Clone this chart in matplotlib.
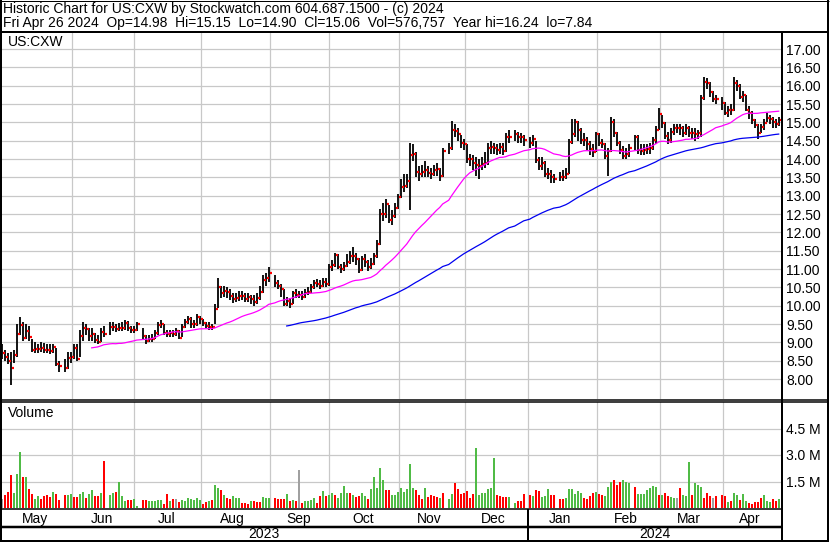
import numpy as np
import pandas as pd
import matplotlib
matplotlib.use('Agg')
import matplotlib.pyplot as plt
from matplotlib.lines import Line2D

W, H = 830, 543
plt.rcParams['font.family'] = ['Liberation Sans', 'DejaVu Sans']

# exchange holidays (no bar drawn, but the slot stays)
holidays = ['2023-05-29', '2023-06-19', '2023-07-04', '2023-09-04', '2023-11-23',
            '2023-12-25', '2024-01-01', '2024-01-15', '2024-02-19', '2024-03-29']

close = [
    8.72, 8.61, 8.48, 8.31, 8.66, 9.22, 9.46, 9.13, 9.32, 9.15, 8.80, 8.83, 8.83, 8.85, 8.78, 8.78, 8.76, 8.87, 8.41, 8.36, 8.30, 8.57,
    8.61, 8.85, 8.55, 9.17, 9.39, 9.36, 9.16, 9.22, 9.06, 9.02, 9.29, 9.23, 9.42, 9.43, 9.36, 9.40, 9.40, 9.53, 9.40, 9.34, 9.34,
    9.49, 9.17, 9.04, 9.08, 9.10, 9.26, 9.46, 9.49, 9.26, 9.22, 9.26, 9.22, 9.31, 9.13, 9.43, 9.56, 9.63, 9.49, 9.49, 9.68,
    9.63, 9.52, 9.45, 9.43, 9.43, 9.92, 10.52, 10.35, 10.41, 10.38, 10.26, 10.17, 10.20, 10.26, 10.26, 10.18, 10.25, 10.17, 10.09, 10.20, 10.38, 10.70, 10.75,
    10.90, 10.61, 10.55, 10.46, 10.05, 10.12, 10.05, 10.34, 10.30, 10.30, 10.25, 10.34, 10.38, 10.50, 10.61, 10.58, 10.55, 10.65, 10.59, 11.06,
    11.11, 11.38, 11.06, 10.99, 11.08, 11.20, 11.35, 11.35, 11.26, 10.97, 11.26, 11.20, 11.06, 11.15, 11.35, 11.68, 12.50, 12.50, 12.77, 12.34, 12.44, 12.67,
    12.97, 13.24, 13.26, 13.41, 14.11, 14.13, 13.65, 13.58, 13.65, 13.70, 13.61, 13.59, 13.70, 13.72, 13.54, 14.23, 14.29, 14.79, 14.77, 14.68, 14.43,
    14.41, 13.99, 13.99, 13.88, 13.85, 13.81, 13.86, 13.88, 14.29, 14.32, 14.29, 14.24, 14.34, 14.23, 14.59, 14.61, 14.68, 14.61, 14.61, 14.52,
    14.45, 14.54, 13.97, 13.81, 13.90, 13.59, 13.58, 13.50, 13.45, 13.52, 13.52, 13.59, 14.46, 14.68, 15.00, 14.80, 14.52, 14.52, 14.40, 14.27, 14.20,
    14.68, 14.43, 14.41, 14.08, 14.23, 15.00, 14.70, 14.43, 14.25, 14.08, 14.15, 14.30, 14.59, 14.25, 14.23, 14.25, 14.27, 14.29, 14.52, 14.79,
    15.23, 14.97, 14.63, 14.52, 14.75, 14.84, 14.85, 14.84, 14.72, 14.84, 14.72, 14.70, 14.68, 14.72, 15.67, 16.11, 16.08, 15.84, 15.63, 15.63,
    15.52, 15.26, 15.34, 15.34, 16.08, 15.99, 15.70, 15.74, 15.35, 15.25, 15.06, 14.92, 14.72, 14.88, 14.99, 15.11, 15.08, 15.00, 14.95, 15.06,
]
high = [
    8.95, 8.80, 8.70, 8.75, 8.80, 9.50, 9.70, 9.55, 9.50, 9.45, 9.10, 9.00, 8.95, 9.00, 8.98, 8.95, 8.95, 8.95, 8.85, 8.50, 8.55, 8.75,
    8.75, 8.95, 8.95, 9.35, 9.55, 9.50, 9.40, 9.40, 9.25, 9.20, 9.40, 9.45, 9.55, 9.55, 9.50, 9.52, 9.55, 9.62, 9.58, 9.45, 9.45,
    9.55, 9.40, 9.20, 9.20, 9.22, 9.35, 9.55, 9.62, 9.50, 9.35, 9.35, 9.35, 9.40, 9.35, 9.50, 9.65, 9.72, 9.68, 9.60, 9.78,
    9.72, 9.65, 9.55, 9.55, 9.50, 10.05, 10.75, 10.55, 10.55, 10.50, 10.45, 10.35, 10.35, 10.40, 10.40, 10.35, 10.35, 10.30, 10.30, 10.35, 10.55, 10.85, 10.90,
    11.05, 10.85, 10.70, 10.60, 10.45, 10.25, 10.20, 10.40, 10.45, 10.40, 10.40, 10.45, 10.50, 10.60, 10.70, 10.72, 10.70, 10.75, 10.75, 11.15,
    11.25, 11.45, 11.40, 11.15, 11.20, 11.40, 11.50, 11.60, 11.45, 11.30, 11.35, 11.40, 11.25, 11.30, 11.45, 11.80, 12.65, 12.80, 12.90, 12.75, 12.60, 12.80,
    13.05, 13.45, 13.60, 13.60, 14.45, 14.40, 14.20, 13.80, 13.85, 13.95, 13.80, 13.75, 13.85, 13.90, 13.75, 14.30, 14.45, 15.05, 14.95, 14.85, 14.65,
    14.55, 14.40, 14.15, 14.10, 14.05, 14.00, 14.05, 14.20, 14.45, 14.50, 14.45, 14.40, 14.45, 14.45, 14.70, 14.80, 14.80, 14.75, 14.72, 14.65,
    14.60, 14.65, 14.50, 14.05, 14.05, 13.95, 13.75, 13.70, 13.60, 13.65, 13.70, 13.75, 14.55, 15.10, 15.10, 15.05, 14.85, 14.70, 14.60, 14.50, 14.40,
    14.75, 14.70, 14.55, 14.45, 14.30, 15.15, 15.10, 14.75, 14.50, 14.35, 14.30, 14.40, 14.65, 14.65, 14.40, 14.40, 14.40, 14.45, 14.60, 14.90,
    15.40, 15.20, 15.00, 14.75, 14.85, 14.95, 14.95, 14.95, 14.90, 14.95, 14.90, 14.85, 14.85, 14.80, 15.75, 16.24, 16.20, 16.10, 15.85, 15.75,
    15.70, 15.55, 15.45, 15.50, 16.24, 16.15, 16.05, 15.85, 15.75, 15.45, 15.30, 15.10, 14.95, 14.95, 15.10, 15.25, 15.20, 15.15, 15.10, 15.15,
]
low = [
    8.55, 8.50, 8.40, 7.84, 8.45, 8.60, 9.20, 9.05, 9.10, 9.05, 8.75, 8.70, 8.72, 8.75, 8.70, 8.70, 8.68, 8.70, 8.35, 8.20, 8.20, 8.28,
    8.45, 8.55, 8.48, 8.60, 9.05, 9.20, 9.05, 9.05, 8.98, 8.95, 9.00, 9.15, 9.20, 9.30, 9.28, 9.30, 9.30, 9.35, 9.32, 9.25, 9.25,
    9.30, 9.10, 8.95, 9.00, 9.02, 9.08, 9.20, 9.40, 9.20, 9.15, 9.15, 9.15, 9.18, 9.08, 9.15, 9.40, 9.50, 9.40, 9.40, 9.45,
    9.50, 9.45, 9.38, 9.35, 9.35, 9.50, 9.95, 10.20, 10.25, 10.22, 10.15, 10.08, 10.10, 10.12, 10.15, 10.10, 10.10, 10.05, 10.00, 10.05, 10.15, 10.35, 10.55,
    10.65, 10.50, 10.45, 10.25, 9.98, 9.98, 9.95, 10.05, 10.20, 10.20, 10.15, 10.20, 10.28, 10.35, 10.45, 10.50, 10.45, 10.50, 10.50, 10.55,
    10.95, 11.05, 11.00, 10.90, 10.95, 11.05, 11.15, 11.20, 11.10, 10.90, 10.95, 11.05, 10.95, 11.00, 11.10, 11.30, 11.65, 12.30, 12.40, 12.25, 12.20, 12.40,
    12.65, 12.95, 13.10, 13.20, 12.60, 13.95, 13.50, 13.40, 13.50, 13.50, 13.50, 13.45, 13.55, 13.55, 13.40, 13.50, 14.15, 14.25, 14.60, 14.50, 14.30,
    14.25, 13.90, 13.80, 13.70, 13.55, 13.45, 13.70, 13.75, 13.85, 14.15, 14.15, 14.10, 14.15, 14.10, 14.20, 14.45, 14.50, 14.45, 14.45, 14.35,
    14.30, 14.35, 13.90, 13.70, 13.70, 13.50, 13.45, 13.35, 13.35, 13.40, 13.40, 13.45, 13.60, 14.40, 14.60, 14.50, 14.40, 14.35, 14.25, 14.10, 14.05,
    14.20, 14.35, 14.30, 14.00, 13.55, 14.20, 14.60, 14.35, 14.15, 14.00, 14.00, 14.05, 14.25, 14.15, 14.10, 14.10, 14.15, 14.15, 14.25, 14.40,
    14.80, 14.85, 14.55, 14.40, 14.45, 14.65, 14.70, 14.65, 14.60, 14.65, 14.60, 14.55, 14.50, 14.55, 14.60, 15.60, 15.90, 15.70, 15.55, 15.50,
    15.35, 15.20, 15.15, 15.20, 15.30, 15.85, 15.65, 15.55, 15.30, 15.10, 14.95, 14.85, 14.55, 14.70, 14.80, 15.00, 14.95, 14.85, 14.85, 14.90,
]
# volume in millions of shares
volume = [
    0.51, 0.76, 0.93, 1.84, 0.87, 1.90, 3.15, 1.73, 1.78, 1.10, 0.82, 0.53, 0.70, 0.53, 0.70, 0.76, 0.65, 0.93, 0.82, 0.47, 0.76, 0.76,
    0.82, 0.65, 0.65, 0.82, 0.93, 0.59, 0.82, 1.04, 0.70, 0.70, 0.87, 2.64, 0.76, 0.87, 0.93, 1.50, 0.70, 0.42, 0.47, 0.47, 0.53,
    0.13, 0.47, 0.44, 0.42, 0.42, 0.38, 0.44, 0.47, 0.23, 0.82, 0.40, 0.53, 0.53, 0.36, 0.47, 0.40, 0.59, 0.53, 0.47, 0.59,
    0.47, 0.25, 0.36, 0.38, 0.46, 1.33, 1.14, 1.04, 0.74, 0.59, 0.53, 0.66, 0.55, 0.57, 0.30, 0.30, 0.25, 0.38, 0.38, 0.36, 0.36, 0.65, 0.59,
    0.59, 0.59, 0.53, 0.53, 0.51, 0.82, 0.40, 0.46, 0.40, 2.13, 0.30, 0.42, 0.42, 0.47, 0.57, 0.28, 0.70, 0.99, 0.66, 0.72,
    0.87, 0.76, 0.57, 0.87, 1.27, 0.87, 0.87, 0.74, 0.63, 0.70, 0.87, 0.70, 0.49, 1.10, 1.78, 1.16, 2.24, 1.56, 1.04, 1.04, 0.76, 0.76,
    0.93, 1.14, 0.93, 1.10, 2.47, 1.14, 1.02, 0.76, 0.53, 1.16, 0.65, 0.76, 0.70, 0.65, 0.59, 0.87, 0.49, 0.82, 1.39, 1.10, 0.78,
    0.83, 0.99, 0.59, 0.82, 3.38, 0.76, 0.87, 0.87, 1.10, 1.14, 2.81, 0.76, 0.70, 0.65, 0.65, 0.65, 0.30, 0.42, 0.40, 0.82,
    0.76, 0.70, 1.04, 0.99, 0.65, 0.70, 1.10, 0.76, 0.76, 0.53, 0.53, 0.59, 1.10, 1.10, 0.82, 0.99, 0.87, 0.59, 0.49, 0.70, 0.87,
    0.93, 0.82, 0.76, 0.70, 1.21, 1.50, 1.56, 1.33, 1.50, 1.56, 1.50, 1.39, 1.21, 0.82, 0.82, 0.82, 1.04, 1.16, 1.27, 1.21,
    0.76, 0.76, 0.87, 0.70, 0.65, 0.59, 0.55, 1.16, 0.76, 0.70, 2.58, 0.76, 1.44, 1.33, 1.21, 0.59, 0.87, 0.70, 0.59, 0.70,
    0.76, 0.70, 0.36, 0.42, 0.87, 0.76, 0.47, 0.82, 0.42, 0.30, 0.25, 0.36, 0.36, 0.59, 0.76, 0.42, 0.36, 0.49, 0.40, 0.53,
]
# g = up day, r = down day, n = unchanged
vol_dir = ("nrrrgggrgrrggrrrrgrrrg"
           "grrggrggrrgrggrgggrrg"
           "grrgggggrrgrnrgggggg"
           "grrgrggrgrrgggrrrgrrrgg"
           "grrrrgrgrnrggggrrgrg"
           "grggggrgrrggrgggggrrgg"
           "ggggggrrrgrrrrgrggrrr"
           "rrrrgggggggrrrrggrrr"
           "rgrrgggrrrrggggggrrrr"
           "grrgggrrrgggrggggggg"
           "rgrrggnrgggrgggrrrnr"
           "rrgrggrggrrrrrgggrrg")

months = ['May', 'Jun', 'Jul', 'Aug', 'Sep', 'Oct', 'Nov', 'Dec',
          'Jan', 'Feb', 'Mar', 'Apr']
years = ['2023', '2024']
price_ticks = np.arange(8.0, 17.01, 0.5)
vol_ticks = [1.5, 3.0, 4.5]

# every weekday gets a slot
days = pd.bdate_range('2023-05-01', '2024-04-26')
trading = days[~days.isin(pd.to_datetime(holidays))]
pos = np.searchsorted(days.values, trading.values)

close_s = pd.Series(close)
ma_short = close_s.rolling(30).mean()
ma_long = close_s.rolling(92).mean()

periods = days.to_period('M')
centers, grid_x = [], []
for p in periods.unique():
    idx = np.where(periods == p)[0]
    centers.append(idx.mean())
    if p != periods[0]:
        if p.start_time.weekday() < 5:
            grid_x.append(idx[0] + 0.33)
        else:
            grid_x.append(idx[0] - 0.8)
year_split = grid_x[7]


def fx(x):
    return x / W


def fy(y):
    return 1 - y / H


fig = plt.figure(figsize=(W / 100, H / 100), dpi=100)

ax = fig.add_axes([fx(1), fy(399), fx(782) - fx(1), fy(32) - fy(399)])
axv = fig.add_axes([fx(1), fy(508), fx(782) - fx(1), fy(402) - fy(508)])

gridc = '#C8C8C8'
for a in (ax, axv):
    a.set_xlim(-0.233, 260.1)
    for s in a.spines.values():
        s.set_visible(False)
    a.set_xticks(grid_x)
    a.set_xticklabels([])
    a.yaxis.tick_right()
    a.tick_params(axis='both', which='both', length=0)
    a.tick_params(axis='y', pad=3, labelsize=10)
    a.grid(True, color=gridc, lw=0.9)
    a.set_axisbelow(True)

ax.set_ylim(7.455, 17.464)
ax.set_yticks(price_ticks)
ax.set_yticklabels(['%.2f' % v for v in price_ticks])

# price bars: high-low line with red close tick
ax.vlines(pos, low, high, color='black', lw=1.3)
ax.hlines(close, pos + 0.3, pos + 1.0, color='#FF0000', lw=1.6)
ax.plot(pos, ma_short, color='#FF00FF', lw=0.9)
ax.plot(pos, ma_long, color='#0000F0', lw=0.9)
fig.text(fx(8), fy(42), 'US:CXW', fontsize=10, va='center', ha='left')

axv.set_ylim(0, 6.0)
axv.set_yticks(vol_ticks)
axv.set_yticklabels(['%.1f M' % v for v in vol_ticks])
colmap = {'g': '#50BB46', 'r': '#FF0000', 'n': '#A0A0A0'}
axv.bar(pos, volume, width=0.67, color=[colmap[c] for c in vol_dir], lw=0)
axv.set_xticks(centers, minor=True)
axv.set_xticklabels(months, minor=True)
axv.tick_params(axis='x', which='minor', pad=3, labelsize=10)
fig.text(fx(8), fy(413), 'Volume', fontsize=10, va='center', ha='left')

# year strip
x_split = 1.7 + 3 * year_split
fig.text(fx((1 + x_split) / 2), fy(534.5), years[0], fontsize=10, ha='center', va='center')
fig.text(fx((x_split + 782) / 2), fy(534.5), years[1], fontsize=10, ha='center', va='center')

# header
fig.text(fx(3), fy(9), 'Historic Chart for US:CXW by Stockwatch.com 604.687.1500 - (c) 2024',
         fontsize=10, va='center', ha='left')
fig.text(fx(3), fy(23), 'Fri Apr 26 2024  Op=14.98  Hi=15.15  Lo=14.90  Cl=15.06  '
         'Vol=576,757  Year hi=16.24  lo=7.84', fontsize=10, va='center', ha='left')


def frame(x0, y0, x1, y1, px):
    fig.add_artist(Line2D([fx(x0), fx(x1)], [fy(y0), fy(y1)], transform=fig.transFigure,
                          color='black', lw=px * 0.72, solid_capstyle='butt'))


frame(0, 0.5, 829, 0.5, 1)
frame(1, 0, 1, 542, 2)
frame(828, 0, 828, 542, 2)
frame(0, 541, 829, 541, 2)
frame(0, 31.5, 829, 31.5, 2)
frame(782, 31, 782, 541, 2)
frame(0, 399.5, 829, 399.5, 1.5)
frame(0, 402, 829, 402, 1.5)
frame(0, 509, 782, 509, 1.5)
frame(0, 526.5, 782, 526.5, 2.5)
frame(x_split, 509, x_split, 541, 2)

fig.savefig('out.png', dpi=100)
